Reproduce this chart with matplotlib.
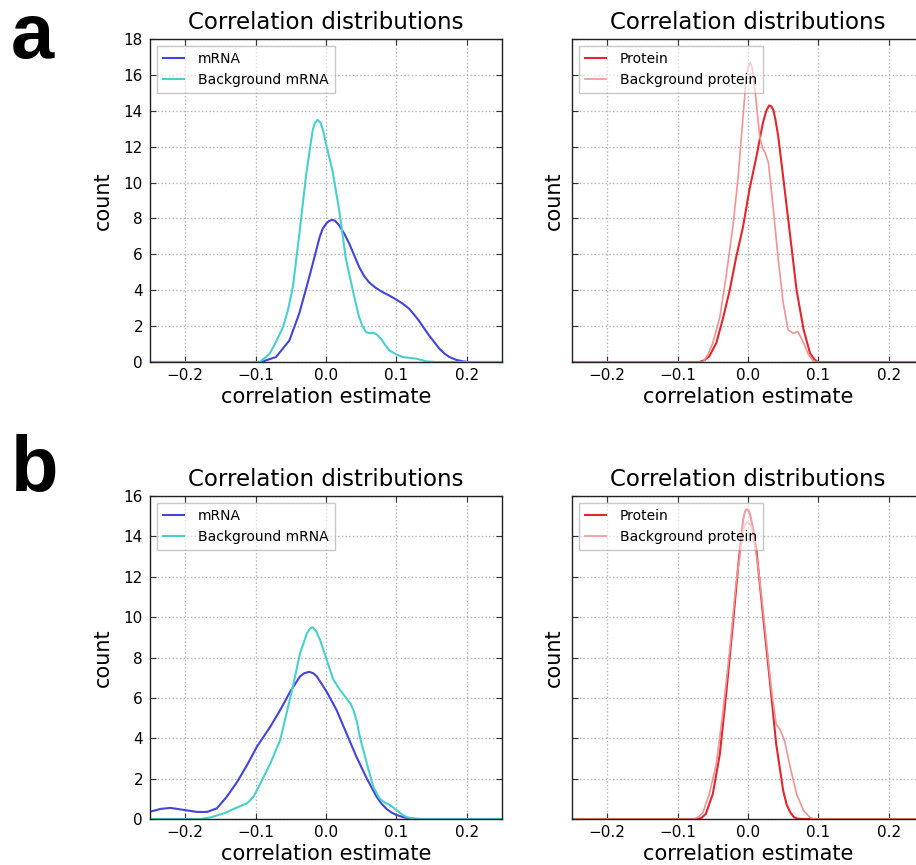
import matplotlib
matplotlib.use("Agg")
import matplotlib.pyplot as plt

# Panel a: correlation density estimates
a_mrna_x = [-0.25, -0.092, -0.071, -0.052, -0.038, -0.024, -0.009, -0.005, 0.0, 0.004,
            0.0085, 0.013, 0.019, 0.026, 0.033, 0.040, 0.047, 0.054, 0.061, 0.070,
            0.080, 0.090, 0.099, 0.109, 0.118, 0.125, 0.132, 0.139, 0.146, 0.154,
            0.161, 0.168, 0.175, 0.185, 0.194, 0.203, 0.25]
a_mrna_y = [0, 0, 0.28, 1.2, 2.7, 4.7, 6.96, 7.4, 7.7, 7.85,
            7.92, 7.87, 7.6, 7.15, 6.6, 5.95, 5.3, 4.8, 4.45, 4.15,
            3.9, 3.7, 3.5, 3.25, 2.97, 2.65, 2.3, 1.9, 1.5, 1.1,
            0.74, 0.48, 0.28, 0.12, 0.04, 0, 0]
a_bg_mrna_x = [-0.25, -0.094, -0.080, -0.070, -0.061, -0.054, -0.047, -0.038, -0.028, -0.019,
               -0.016, -0.012, -0.008, -0.004, 0.0, 0.009, 0.019, 0.028, 0.038, 0.047,
               0.052, 0.057, 0.062, 0.068, 0.073, 0.078, 0.084, 0.090, 0.100, 0.109,
               0.120, 0.128, 0.142, 0.156, 0.25]
a_bg_mrna_y = [0, 0, 0.46, 1.2, 1.95, 2.9, 4.2, 7.1, 10.5, 12.9,
               13.3, 13.5, 13.34, 12.9, 12.15, 10.7, 8.4, 5.8, 4.0, 2.5,
               2.0, 1.67, 1.6, 1.63, 1.5, 1.3, 0.95, 0.65, 0.42, 0.28,
               0.22, 0.19, 0.04, 0, 0]
a_prot_x = [-0.25, -0.069, -0.062, -0.055, -0.045, -0.036, -0.026, -0.017, -0.007, 0.002,
            0.012, 0.021, 0.026, 0.030, 0.033, 0.036, 0.039, 0.043, 0.050, 0.060,
            0.069, 0.079, 0.088, 0.094, 0.098, 0.10, 0.25]
a_prot_y = [0, 0, 0.1, 0.32, 1.06, 2.36, 4.0, 5.8, 7.55, 9.6,
            11.45, 13.3, 14.0, 14.3, 14.25, 14.05, 13.5, 12.56, 10.3, 7.0,
            4.0, 1.8, 0.5, 0.15, 0.04, 0, 0]
a_bg_prot_x = [-0.25, -0.064, -0.057, -0.050, -0.040, -0.031, -0.021, -0.014, -0.007, -0.0024,
               0.0005, 0.0033, 0.006, 0.0095, 0.0167, 0.021, 0.025, 0.029, 0.036, 0.043,
               0.050, 0.057, 0.064, 0.071, 0.079, 0.086, 0.093, 0.10, 0.25]
a_bg_prot_y = [0, 0, 0.4, 1.06, 2.5, 4.8, 7.7, 10.3, 13.7, 15.9,
               16.45, 16.7, 16.4, 15.3, 12.55, 11.9, 11.6, 11.1, 8.5, 5.7,
               3.3, 1.8, 1.6, 1.7, 1.06, 0.4, 0.04, 0, 0]

# Panel b
b_mrna_x = [-0.25, -0.235, -0.221, -0.202, -0.183, -0.169, -0.155, -0.141, -0.126, -0.112,
            -0.098, -0.079, -0.065, -0.051, -0.037, -0.031, -0.024, -0.018, -0.013, 0.001,
            0.015, 0.029, 0.043, 0.058, 0.072, 0.079, 0.086, 0.093, 0.100, 0.110,
            0.119, 0.128, 0.25]
b_mrna_y = [0.36, 0.5, 0.55, 0.45, 0.35, 0.35, 0.53, 1.1, 1.85, 2.68,
            3.59, 4.58, 5.4, 6.3, 7.06, 7.22, 7.29, 7.22, 7.06, 6.3,
            5.4, 4.25, 3.1, 2.0, 1.1, 0.75, 0.5, 0.32, 0.2, 0.09,
            0.03, 0, 0]
b_bg_mrna_x = [-0.25, -0.178, -0.164, -0.145, -0.131, -0.112, -0.103, -0.093, -0.079, -0.065,
               -0.056, -0.046, -0.037, -0.027, -0.023, -0.019, -0.014, -0.0085, 0.001, 0.0104,
               0.0198, 0.029, 0.035, 0.039, 0.044, 0.048, 0.058, 0.067, 0.076, 0.083,
               0.091, 0.100, 0.109, 0.116, 0.124, 0.133, 0.25]
b_bg_mrna_y = [0, 0, 0.08, 0.28, 0.5, 0.78, 1.1, 1.77, 2.76, 3.92,
               5.24, 6.73, 8.2, 9.2, 9.42, 9.5, 9.3, 8.88, 7.88, 6.9,
               6.4, 5.98, 5.7, 5.4, 4.8, 4.08, 2.76, 1.6, 1.02, 0.82,
               0.69, 0.45, 0.2, 0.08, 0.03, 0, 0]
b_prot_x = [-0.25, -0.071, -0.066, -0.060, -0.050, -0.040, -0.031, -0.021, -0.014, -0.007,
            -0.0045, -0.0024, 0.0005, 0.0033, 0.007, 0.012, 0.021, 0.031, 0.040, 0.050,
            0.055, 0.060, 0.065, 0.069, 0.075, 0.25]
b_prot_y = [0, 0, 0.06, 0.25, 1.24, 3.22, 6.2, 9.83, 12.5, 14.8,
            15.2, 15.34, 15.3, 15.04, 14.4, 13.3, 10.2, 6.86, 3.72, 1.4,
            0.7, 0.33, 0.1, 0.03, 0, 0]
b_bg_prot_x = [-0.25, -0.076, -0.070, -0.064, -0.055, -0.045, -0.036, -0.026, -0.017, -0.007,
               -0.004, -0.001, 0.002, 0.005, 0.014, 0.024, 0.033, 0.040, 0.045, 0.052,
               0.060, 0.069, 0.079, 0.088, 0.093, 0.25]
b_bg_prot_y = [0, 0, 0.12, 0.33, 1.24, 2.73, 5.2, 8.35, 11.65, 14.3,
               14.6, 14.7, 14.65, 14.46, 12.64, 9.5, 6.5, 4.7, 4.46, 3.88,
               2.56, 1.24, 0.41, 0.08, 0, 0]

xticks = [-0.2, -0.1, 0.0, 0.1, 0.2]
ylims = {"a": 18, "b": 16}

c_mrna = "#4343de"
c_bg_mrna = "#48d1cc"
c_prot = "#e3262d"
c_bg_prot = "#f29494"

fig = plt.figure(figsize=(9.16, 8.65), dpi=100)

W, H = 916.0, 865.0
aw, ah = 352 / W, 323 / H


def style_axes(ax, ymax, show_ylabels):
    ax.set_xlim(-0.25, 0.25)
    ax.set_ylim(0, ymax)
    ax.set_xticks(xticks)
    ax.set_yticks(range(0, ymax + 1, 2))
    ax.grid(True, linestyle=":", color="#b4b4b4", linewidth=1.0)
    ax.tick_params(direction="in", top=True, right=True, length=4,
                   labelsize=11, color="#333333")
    ax.tick_params(axis="x", pad=4)
    ax.tick_params(axis="y", pad=5, labelleft=show_ylabels)
    for s in ax.spines.values():
        s.set_color("#222222")
        s.set_linewidth(1.0)
    ax.set_title("Correlation distributions", fontsize=16.5, pad=7)
    ax.set_xlabel("correlation estimate", fontsize=15, labelpad=3)
    ax.set_ylabel("count", fontsize=15, labelpad=8 if show_ylabels else 6)


def legend(ax):
    leg = ax.legend(loc="upper left", fontsize=10, handlelength=1.5,
                    handletextpad=1.0, labelspacing=0.5, borderpad=0.45,
                    borderaxespad=0.5, fancybox=False, framealpha=0.55)
    leg.get_frame().set_edgecolor("#999999")
    leg.get_frame().set_linewidth(1.0)


rows = [
    ("a", 1 - 362 / H, a_mrna_x, a_mrna_y, a_bg_mrna_x, a_bg_mrna_y,
     a_prot_x, a_prot_y, a_bg_prot_x, a_bg_prot_y),
    ("b", 1 - 819 / H, b_mrna_x, b_mrna_y, b_bg_mrna_x, b_bg_mrna_y,
     b_prot_x, b_prot_y, b_bg_prot_x, b_bg_prot_y),
]

for (tag, bottom, mx, my, bmx, bmy, px, py, bpx, bpy) in rows:
    ymax = ylims[tag]

    ax1 = fig.add_axes([150 / W, bottom, aw, ah])
    ax1.plot(mx, my, color=c_mrna, lw=1.5, label="mRNA")
    ax1.plot(bmx, bmy, color=c_bg_mrna, lw=1.5, label="Background mRNA")
    style_axes(ax1, ymax, True)
    legend(ax1)

    ax2 = fig.add_axes([572 / W, bottom, aw, ah])
    ax2.plot(px, py, color=c_prot, lw=1.5, label="Protein")
    ax2.plot(bpx, bpy, color=c_bg_prot, lw=1.2, label="Background protein")
    style_axes(ax2, ymax, False)
    legend(ax2)

# panel letters
fig.text(11 / W, 1 - 58 / H, "a", fontsize=56, fontweight="bold",
         family="Liberation Sans", ha="left", va="baseline")
fig.text(11 / W, 1 - 491 / H, "b", fontsize=56, fontweight="bold",
         family="Liberation Sans", ha="left", va="baseline")

fig.savefig("out.png", dpi=100)
